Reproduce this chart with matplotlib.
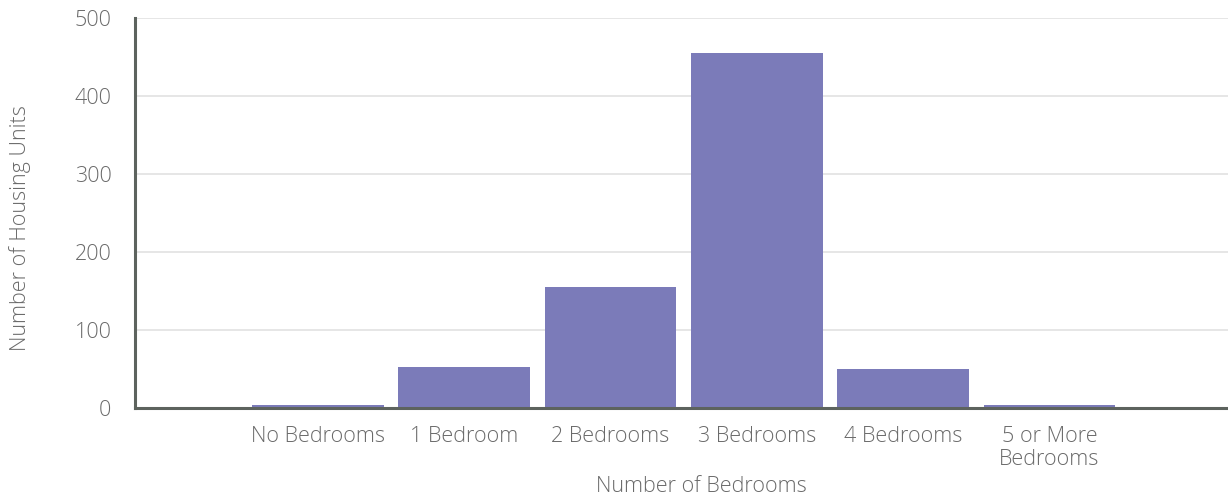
import matplotlib
matplotlib.use("Agg")
import matplotlib.pyplot as plt

categories = ["No Bedrooms", "1 Bedroom", "2 Bedrooms", "3 Bedrooms", "4 Bedrooms", "5 or More\nBedrooms"]
values = [4, 53, 155, 455, 50, 4]
yticks = [0, 100, 200, 300, 400, 500]

plt.rcParams['font.family'] = ['Open Sans', 'DejaVu Sans']
plt.rcParams['font.weight'] = 'light'

TXT = "#6a6a6a"
FS = 15.5

fig = plt.figure(figsize=(12.28, 5.0), dpi=100)
ax = fig.add_axes([135/1228, (500-408)/500, (1228-135)/1228, 390/500])

x = list(range(len(categories)))
ax.bar(x, values, width=0.9, color="#7b7bb9", zorder=3)
ax.set_xlim(-1.25, 6.22)
ax.set_ylim(0, 500)
ax.set_yticks(yticks)
ax.set_yticklabels([str(v) for v in yticks])
ax.set_xticks(x)
ax.set_xticklabels(categories, linespacing=1.15)

ax.grid(axis='y', color="#e2e2e2", linewidth=1.2, zorder=0)
ax.set_axisbelow(True)
for s in ['top', 'right']:
    ax.spines[s].set_visible(False)
for s in ['left', 'bottom']:
    ax.spines[s].set_color("#5d635e")
    ax.spines[s].set_linewidth(2.2)
    ax.spines[s].set_zorder(4)

ax.tick_params(axis='both', length=0, colors=TXT, labelsize=FS)
ax.tick_params(axis='y', pad=17)
ax.tick_params(axis='x', pad=13)

fig.text(20/1228, 1 - 228/500, "Number of Housing Units", rotation=90, ha='center', va='center',
         fontsize=FS, color=TXT)
fig.text(701/1228, 1 - 487/500, "Number of Bedrooms", ha='center', va='center',
         fontsize=FS, color=TXT)

fig.savefig("out.png", dpi=100)
